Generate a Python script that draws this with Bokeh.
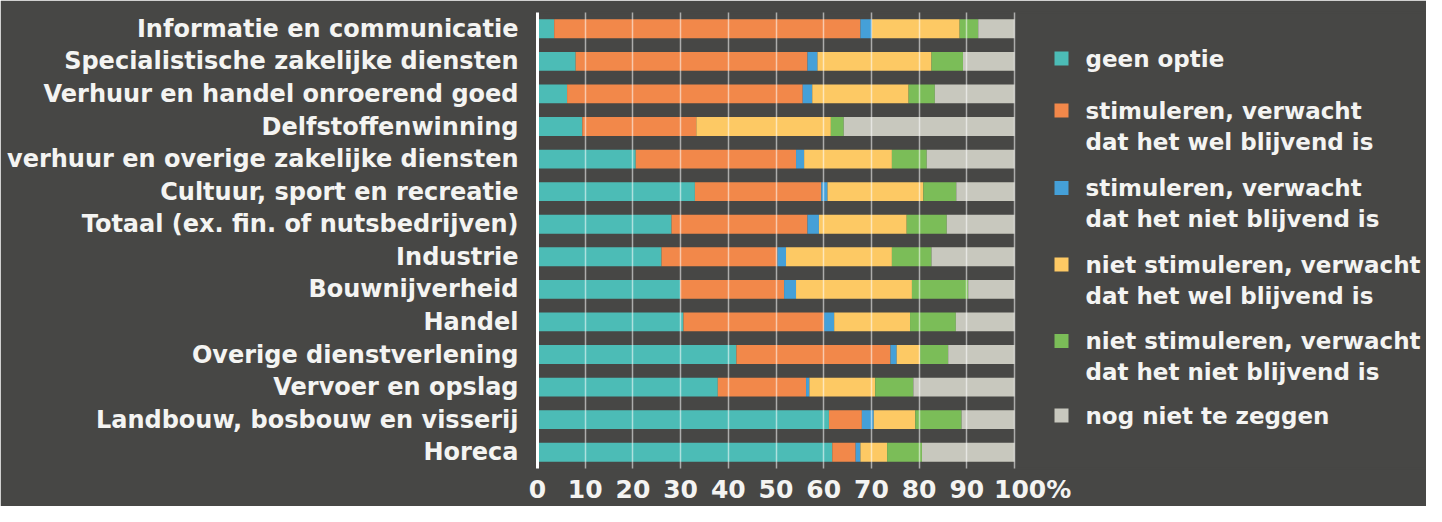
from bokeh.plotting import figure
from bokeh.models import FactorRange, FixedTicker, ColumnDataSource, Range1d
from bokeh.core.properties import value
from bokeh.embed import file_html
from bokeh.resources import INLINE

categories = [
    "Informatie en communicatie",
    "Specialistische zakelijke diensten",
    "Verhuur en handel onroerend goed",
    "Delfstoffenwinning",
    "verhuur en overige zakelijke diensten",
    "Cultuur, sport en recreatie",
    "Totaal (ex. fin. of nutsbedrijven)",
    "Industrie",
    "Bouwnijverheid",
    "Handel",
    "Overige dienstverlening",
    "Vervoer en opslag",
    "Landbouw, bosbouw en visserij",
    "Horeca",
]

geen_optie = [3.5, 8.0, 6.2, 9.4, 20.6, 33.0, 28.1, 26.0, 29.9, 30.6, 41.7, 37.8, 61.1, 61.8]
stim_wel = [64.2, 48.6, 49.4, 23.9, 33.6, 26.5, 28.5, 24.3, 21.8, 29.5, 32.3, 18.5, 6.9, 4.9]
stim_niet = [2.4, 2.1, 2.0, 0.0, 1.7, 1.3, 2.4, 1.8, 2.5, 2.1, 1.3, 0.7, 2.5, 1.0]
niet_stim_wel = [18.4, 23.9, 20.2, 28.2, 18.4, 20.1, 18.4, 22.2, 24.3, 15.9, 4.9, 13.8, 8.7, 5.6]
niet_stim_niet = [3.9, 6.6, 5.5, 2.7, 7.3, 6.9, 8.4, 8.3, 11.8, 9.6, 5.9, 8.0, 9.7, 7.3]
nog_niet = [7.6, 10.8, 16.7, 35.8, 18.4, 12.2, 14.2, 17.4, 9.7, 12.3, 13.9, 21.2, 11.1, 19.4]

series_names = ["geen_optie", "stim_wel", "stim_niet", "niet_stim_wel", "niet_stim_niet", "nog_niet"]
series_labels = [
    "geen optie",
    "stimuleren, verwacht\ndat het wel blijvend is",
    "stimuleren, verwacht\ndat het niet blijvend is",
    "niet stimuleren, verwacht\ndat het wel blijvend is",
    "niet stimuleren, verwacht\ndat het niet blijvend is",
    "nog niet te zeggen",
]
colors = ["#4cbcb6", "#f2884a", "#45a0d8", "#fdc964", "#7bbd58", "#c8c8be"]
grid_ticks = [0, 10, 20, 30, 40, 50, 60, 70, 80, 90, 100]
# the original prints "100%" slightly right of its gridline (the "%" pushes it over)
label_ticks = [0, 10, 20, 30, 40, 50, 60, 70, 80, 90, 103.8]
label_texts = ["0", "10", "20", "30", "40", "50", "60", "70", "80", "90", "100%"]

BG = "#474745"
TXT = "#f4f4f2"
FONT = "DejaVu Sans"

W, H = 1426, 506
TOP, BOTTOM = 12, 29
LEFT = 537
PX_PER_UNIT = 4.77
X_END = (W - LEFT) / PX_PER_UNIT
FRAME_BOTTOM = H - BOTTOM
PITCH = (H - TOP - BOTTOM) / len(categories)


def px_x(px):
    return (px - LEFT) / PX_PER_UNIT


def px_y(py):
    return (FRAME_BOTTOM - py) / PITCH


source = ColumnDataSource(dict(
    cat=categories,
    geen_optie=geen_optie,
    stim_wel=stim_wel,
    stim_niet=stim_niet,
    niet_stim_wel=niet_stim_wel,
    niet_stim_niet=niet_stim_niet,
    nog_niet=nog_niet,
))

p = figure(
    y_range=FactorRange(factors=list(reversed(categories)), range_padding=0),
    x_range=Range1d(0, X_END),
    width=W, height=H,
    min_border_left=LEFT, min_border_right=0, min_border_top=TOP, min_border_bottom=BOTTOM,
    output_backend="svg", toolbar_location=None,
    background_fill_color=BG, border_fill_color=BG,
    outline_line_color=BG, outline_line_width=2,
)

p.hbar_stack(series_names, y="cat", height=0.58, color=colors,
             line_color=None, source=source)

# grid over bars
p.ygrid.grid_line_color = None
p.xgrid.ticker = FixedTicker(ticks=grid_ticks)
p.xgrid.grid_line_color = "white"
p.xgrid.grid_line_alpha = 0.55
p.xgrid.grid_line_width = 1.5
p.xgrid.level = "annotation"

# x axis
p.xaxis.ticker = FixedTicker(ticks=label_ticks)
p.xaxis.major_label_overrides = dict(zip(label_ticks, label_texts))
p.xaxis.axis_line_color = None
p.xaxis.major_tick_line_color = None
p.xaxis.minor_tick_line_color = None
p.xaxis.major_label_text_color = TXT
p.xaxis.major_label_text_font = FONT
p.xaxis.major_label_text_font_style = "bold"
p.xaxis.major_label_text_font_size = "25px"
p.xaxis.major_label_standoff = 0

# y axis
p.yaxis.axis_line_color = "white"
p.yaxis.axis_line_width = 3
p.yaxis.major_tick_line_color = None
p.yaxis.minor_tick_line_color = None
p.yaxis.major_label_text_color = TXT
p.yaxis.major_label_text_font = FONT
p.yaxis.major_label_text_font_style = "bold"
p.yaxis.major_label_text_font_size = "24px"
p.yaxis.major_label_standoff = 13

# legend (manual, so the swatch sits on the first line of each entry)
item_tops = [59, 112, 191, 269, 347, 423]
line_gap = 32
sw_x, sw_y, tx_x, tx_y, tx_s = [], [], [], [], []
for lab, top in zip(series_labels, item_tops):
    sw_x.append(px_x(1061))
    sw_y.append(px_y(top))
    for k, line in enumerate(lab.split("\n")):
        tx_x.append(px_x(1085))
        tx_y.append(px_y(top + k * line_gap))
        tx_s.append(line)

p.rect(x=sw_x, y=sw_y, width=14, height=14, width_units="screen", height_units="screen",
       color=colors, line_color=None)
p.text(x=tx_x, y=tx_y, text=tx_s, text_baseline="middle", text_align="left",
       text_color=TXT, text_font=value(FONT), text_font_style="bold", text_font_size="23px")

open("out.html", "w").write(file_html(p, INLINE))
